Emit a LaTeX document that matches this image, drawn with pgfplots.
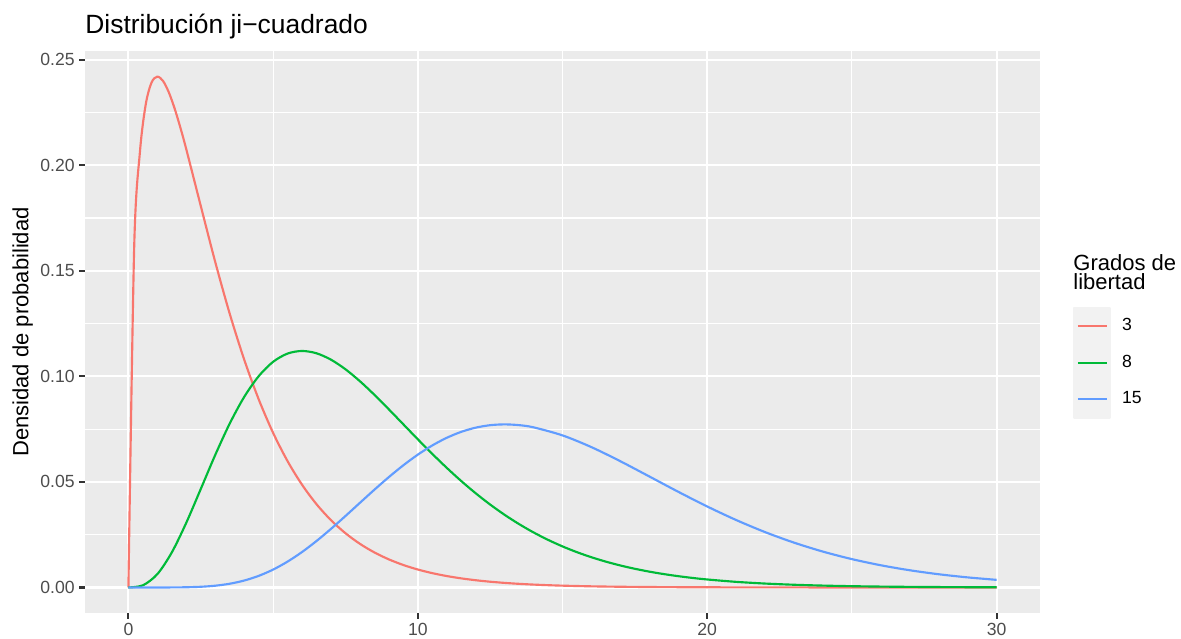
\documentclass[border=0pt]{standalone}
\usepackage{fontspec}
\setmainfont{Liberation Sans}
\usepackage{pgfplots}
\pgfplotsset{compat=1.18}
\definecolor{panelbg}{HTML}{EBEBEB}
\definecolor{keybg}{HTML}{F2F2F2}
\definecolor{tickcol}{HTML}{333333}
\definecolor{labcol}{HTML}{4D4D4D}
\definecolor{c3}{HTML}{F8766D}
\definecolor{c8}{HTML}{00BA38}
\definecolor{c15}{HTML}{619CFF}
\begin{document}
\begin{tikzpicture}
\useasboundingbox (-42.5pt,-12.5pt) rectangle (548pt,306.5pt);
\begin{axis}[
  at={(0pt,0pt)}, anchor=south west,
  scale only axis, width=477.5pt, height=281pt,
  xmin=-1.5, xmax=31.5, ymin=-0.0121, ymax=0.2541,
  axis background/.style={fill=panelbg},
  axis line style={draw=none},
  tick pos=left,
  xtick={0,10,20,30}, xticklabels={0,10,20,30},
  minor xtick={5,15,25},
  ytick={0,0.05,0.1,0.15,0.2,0.25}, yticklabels={0.00,0.05,0.10,0.15,0.20,0.25},
  minor ytick={0.025,0.075,0.125,0.175,0.225},
  grid=both,
  major grid style={white, line width=1.07pt},
  minor grid style={white, line width=0.53pt},
  tick align=outside,
  major tick length=2.75pt, minor tick length=0pt,
  every tick/.style={tickcol, line width=1.07pt},
  tick label style={font=\fontsize{8.8}{10}\selectfont, text=labcol, inner sep=0pt},
  xticklabel style={anchor=north, yshift=-2.2pt},
  yticklabel style={anchor=east, xshift=-2.2pt},
  legend style={at={(1.03455,0.54448)}, anchor=north west, draw=none, fill=none,
    inner sep=0pt, outer sep=0pt, row sep=-1pt,
    nodes={inner sep=0pt, outer sep=0pt},
    font=\fontsize{8.8}{10}\selectfont,
    /tikz/every odd column/.append style={column sep=5.5pt}},
  legend cell align=left,
  legend image code/.code={
    \fill[keybg] (0pt,-9.1pt) rectangle (18pt,9.1pt);
    \draw[#1] (1.85pt,0pt) -- (16.35pt,0pt);
  },
  every axis plot/.append style={line width=1.07pt, line join=round},
]
\addplot[c3, smooth] coordinates {
(0,0) (0.2,0.161434) (0.4,0.206577) (0.6,0.228927) (0.8,0.239186) (1,0.241971)
(1.2,0.239841) (1.4,0.234405) (1.6,0.226743) (1.8,0.217611) (2,0.207554)
(2.5,0.180724) (3,0.154180) (3.5,0.129697) (4,0.107982) (4.5,0.089198)
(5,0.073225) (5.5,0.059811) (6,0.048652) (6.5,0.039437) (7,0.031872)
(7.5,0.025695) (8,0.020667) (8.5,0.016590) (9,0.013296) (9.5,0.010639)
(10,0.0085003) (10.5,0.0067842) (11,0.0054077) (11.5,0.0043062) (12,0.0034256)
(12.5,0.0027229) (13,0.0021625) (13.5,0.0017163) (14,0.0013612) (14.5,0.0010788)
(15,0.00085457) (16,0.00053532) (17,0.00033468) (18,0.00020888) (19,0.00013016)
(20,0.000081) (22,0.0000313) (24,0.000012) (26,0.0000046) (28,0.0000018) (30,0.0000007)
};
\addlegendentry{3}
\addplot[c8, smooth] coordinates {
(0,0) (0.5,0.001014) (1,0.006318) (1.5,0.016607) (2,0.030657) (2.5,0.046632)
(3,0.062755) (3.5,0.077610) (4,0.090223) (4.5,0.100047) (5,0.106882)
(5.5,0.110792) (6,0.112021) (6.5,0.110920) (7,0.107891) (7.5,0.103351)
(8,0.097685) (8.5,0.091249) (9,0.084359) (9.5,0.077271) (10,0.070187)
(10.5,0.063278) (11,0.056661) (11.5,0.050423) (12,0.044617) (12.5,0.039275)
(13,0.034407) (13.5,0.030009) (14,0.026065) (14.5,0.022553) (15,0.019444)
(15.5,0.016709) (16,0.014313) (16.5,0.012225) (17,0.010413) (17.5,0.0088464)
(18,0.0074972) (18.5,0.0063390) (19,0.0053480) (19.5,0.0045026) (20,0.0037833)
(21,0.0026564) (22,0.0018525) (23,0.0012839) (24,0.00088476) (25,0.00060656)
(26,0.00041382) (27,0.00028110) (28,0.00019014) (29,0.00012813) (30,0.000086)
};
\addlegendentry{8}
\addplot[c15, smooth] coordinates {
(0,0) (1,0.0000018) (1.5,0.0000195) (2,0.0000983) (2.5,0.0003265) (3,0.00083174)
(3.5,0.0017643) (4,0.0032730) (4.5,0.0054810) (5,0.0084667) (5.5,0.012251)
(6,0.016797) (6.5,0.022010) (7,0.027748) (7.5,0.033840) (8,0.040092)
(8.5,0.046303) (9,0.052287) (9.5,0.057870) (10,0.062903) (10.5,0.067271)
(11,0.070888) (11.5,0.073703) (12,0.075692) (12.5,0.076863) (13,0.077243)
(13.5,0.076882) (14,0.075842) (15,0.072032) (16,0.066461) (17,0.059780)
(18,0.052573) (19,0.045315) (20,0.038361) (21,0.031950) (22,0.026222)
(23,0.021232) (24,0.016982) (25,0.013430) (26,0.010511) (27,0.0081479)
(28,0.0062596) (29,0.0047694) (30,0.0036059)
};
\addlegendentry{15}
\end{axis}
\node[anchor=base west, inner sep=0pt, font=\fontsize{13.2}{15}\selectfont] at (0pt,289.85pt) {Distribución ji−cuadrado};
\node[anchor=base, rotate=90, inner sep=0pt, font=\fontsize{11}{13}\selectfont] at (-28.35pt,140.5pt) {Densidad de probabilidad};
\node[anchor=base west, inner sep=0pt, font=\fontsize{11}{13}\selectfont] at (494pt,171.5pt) {Grados de};
\node[anchor=base west, inner sep=0pt, font=\fontsize{11}{13}\selectfont] at (494pt,161.6pt) {libertad};
\end{tikzpicture}
\end{document}
